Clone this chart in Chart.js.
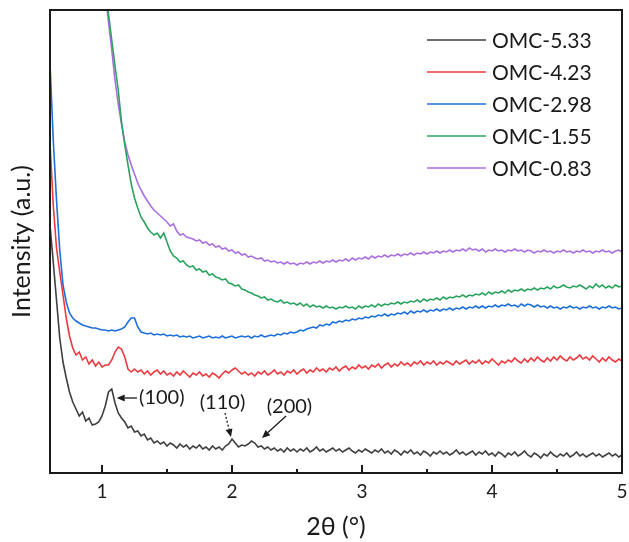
<!DOCTYPE html>
<html><head><meta charset="utf-8">
<script src="https://cdn.jsdelivr.net/npm/chart.js@4.4.1/dist/chart.umd.min.js"></script>
<style>html,body{margin:0;padding:0;background:#fff}</style>
</head><body>
<canvas id="c" width="629" height="542"></canvas>
<script>
// 2θ (°) sampling positions
const twoTheta = [
0.6,0.625,0.65,0.675,0.7,0.725,0.75,0.775,0.8,0.825,
0.85,0.875,0.9,0.925,0.95,0.975,1,1.025,1.05,1.075,
1.1,1.125,1.15,1.175,1.2,1.225,1.25,1.275,1.3,1.325,
1.35,1.375,1.4,1.425,1.45,1.475,1.5,1.525,1.55,1.575,
1.6,1.625,1.65,1.675,1.7,1.725,1.75,1.775,1.8,1.825,
1.85,1.875,1.9,1.925,1.95,1.975,2,2.025,2.05,2.075,
2.1,2.125,2.15,2.175,2.2,2.225,2.25,2.275,2.3,2.325,
2.35,2.375,2.4,2.425,2.45,2.475,2.5,2.525,2.55,2.575,
2.6,2.625,2.65,2.675,2.7,2.725,2.75,2.775,2.8,2.825,
2.85,2.875,2.9,2.925,2.95,2.975,3,3.025,3.05,3.075,
3.1,3.125,3.15,3.175,3.2,3.225,3.25,3.275,3.3,3.325,
3.35,3.375,3.4,3.425,3.45,3.475,3.5,3.525,3.55,3.575,
3.6,3.625,3.65,3.675,3.7,3.725,3.75,3.775,3.8,3.825,
3.85,3.875,3.9,3.925,3.95,3.975,4,4.025,4.05,4.075,
4.1,4.125,4.15,4.175,4.2,4.225,4.25,4.275,4.3,4.325,
4.35,4.375,4.4,4.425,4.45,4.475,4.5,4.525,4.55,4.575,
4.6,4.625,4.65,4.675,4.7,4.725,4.75,4.775,4.8,4.825,
4.85,4.875,4.9,4.925,4.95,4.975,5
];

// Intensity (a.u.) of each sample
const omc533 = [
275,238,200,162,138,122,108,98,91,84,
88,79,82,75,76,78,84,94,108,111,
97,87,82,78,72,74,68,69,64,66,
60,62,57,59,56,58,54,57,55,52,
56,53,55,51,54,52,55,51,53,50,
54,51,53,50,54,56,61,57,53,55,
54,56,59,57,53,54,51,53,50,52,
49,51,48,52,49,51,48,51,49,52,
48,50,53,49,51,48,50,52,49,51,
48,50,52,49,47,50,48,51,49,47,
50,48,51,47,49,46,50,48,45,49,
47,50,46,48,45,49,47,44,48,46,
49,46,48,45,47,50,46,48,45,47,
49,45,48,46,49,45,47,44,48,46,
43,47,45,48,44,46,49,45,43,47,
45,42,46,44,48,45,43,46,44,47,
43,45,48,44,46,43,45,47,44,46,
43,45,47,44,46,43,45
];
const omc423 = [
357,295,252,228,205,182,164,152,145,148,
140,143,136,140,134,138,133,135,135,140,
148,153,151,143,131,128,131,128,130,126,
129,125,128,130,126,129,125,127,124,128,
125,129,126,123,127,125,128,124,126,123,
127,125,122,126,129,127,130,132,129,126,
128,125,127,124,128,126,129,125,127,130,
126,128,125,129,127,130,126,129,131,127,
130,128,132,129,131,128,132,130,133,129,
132,134,130,133,131,135,132,134,131,135,
133,136,132,135,137,133,136,134,138,135,
137,134,138,136,139,135,138,136,139,135,
138,136,139,137,135,139,136,138,140,136,
139,137,140,136,139,137,141,138,135,139,
137,140,138,142,139,137,141,138,142,139,
143,140,138,142,139,143,140,144,141,139,
143,140,142,145,141,143,140,144,141,138,
142,139,143,140,138,141,139
];
const omc298 = [
437,360,300,250,215,198,187,182,179,177,
175,174,173,172,172,171,170,170,169,170,
169,170,171,173,178,182,182,173,168,167,
166,167,165,166,165,166,164,165,164,165,
163,164,163,164,162,163,164,162,163,164,
162,163,162,164,162,163,164,162,163,164,
163,164,162,164,163,165,163,164,165,164,
166,165,167,166,168,167,168,170,169,171,
172,173,172,175,174,176,175,178,177,179,
178,180,179,181,180,182,181,183,182,184,
183,185,184,186,184,186,185,187,186,188,
186,189,187,189,188,190,188,190,189,191,
189,191,190,192,190,192,191,193,191,193,
192,194,192,194,192,194,193,195,193,195,
194,196,194,195,193,196,194,196,195,193,
195,193,194,192,194,192,193,191,193,192,
194,192,193,191,193,192,194,192,193,191,
193,192,194,192,193,191,192
];
const omc155 = [
null,null,null,null,null,null,null,null,null,null,
null,null,null,null,610,572,540,512,486,460,
434,410,378,355,335,316,302,292,283,278,
272,268,265,267,262,267,258,249,244,242,
238,239,235,233,234,230,231,228,229,225,
226,223,222,220,221,217,216,214,215,211,
210,208,207,205,204,202,203,200,201,199,
198,200,197,198,196,197,195,197,194,196,
193,195,193,194,192,194,192,193,191,193,
192,194,192,193,191,194,192,194,193,195,
193,196,194,196,195,197,196,198,196,198,
197,199,198,200,198,201,199,201,200,202,
200,203,201,203,202,204,203,205,203,205,
204,206,205,207,205,208,206,208,207,209,
207,210,208,210,209,211,209,211,210,212,
210,212,211,213,211,214,212,213,215,213,
212,214,213,215,213,211,214,212,216,213,
215,212,214,212,215,213,214
];
const omc083 = [
null,null,null,null,null,null,null,null,null,null,
null,null,null,null,620,580,545,508,478,450,
420,396,376,358,345,335,326,317,310,304,
299,294,290,287,284,281,278,274,276,269,
265,266,263,262,261,259,260,257,258,255,
256,253,254,251,252,249,250,247,248,245,
246,243,244,242,241,242,239,240,238,239,
237,238,236,238,236,237,235,237,236,238,
236,238,237,239,237,239,238,240,238,240,
239,241,239,242,240,242,241,243,241,244,
242,244,243,245,243,245,244,246,244,246,
245,247,245,247,246,248,246,248,247,249,
247,249,248,250,248,250,249,251,249,252,
250,251,249,251,248,250,249,251,249,250,
248,250,249,251,249,250,248,250,249,247,
249,248,250,248,249,247,249,248,250,248,
249,247,249,248,250,248,249,247,249,248,
250,248,249,247,249,250,248
];

const seriesLabels = ['OMC-5.33','OMC-4.23','OMC-2.98','OMC-1.55','OMC-0.83'];
const xTicks = [1, 2, 3, 4, 5];
const xMinorTicks = [1.5, 2.5, 3.5, 4.5];
const peakLabels = ['(100)', '(110)', '(200)'];

// styling / annotation placement (data coordinates)
const colors = ['#3f3f3f', '#ec3a3f', '#1d6fdc', '#2ba35f', '#a96fe0'];
const notePlace = [
  {tx: 1.285, ty: 102, align: 'left',   from: [1.269, 102], to: [1.113, 102], dash: []},
  {tx: 1.927, ty: 97,  align: 'center', from: [1.946, 87],  to: [1.992, 63],  dash: [2, 2]},
  {tx: 2.442, ty: 93,  align: 'center', from: [2.416, 84],  to: [2.231, 62],  dash: []}
];

const series = [omc533, omc423, omc298, omc155, omc083];
const datasets = series.map((arr, k) => ({
  label: seriesLabels[k],
  data: twoTheta.map((x, i) => ({x: x, y: arr[i]})),
  borderColor: colors[k],
  backgroundColor: colors[k],
  borderWidth: 1.6,
  pointRadius: 0,
  tension: 0,
  fill: false,
  spanGaps: false
}));

function drawArrow(ctx, x1, y1, x2, y2, dash) {
  const ang = Math.atan2(y2 - y1, x2 - x1), L = 8, W = 3.5;
  const bx = x2 - L * Math.cos(ang), by = y2 - L * Math.sin(ang);
  ctx.setLineDash(dash);
  ctx.beginPath(); ctx.moveTo(x1, y1); ctx.lineTo(bx, by); ctx.stroke();
  ctx.setLineDash([]);
  ctx.beginPath();
  ctx.moveTo(x2, y2);
  ctx.lineTo(bx - W * Math.sin(ang), by + W * Math.cos(ang));
  ctx.lineTo(bx + W * Math.sin(ang), by - W * Math.cos(ang));
  ctx.closePath(); ctx.fill();
}

const decor = {
  id: 'decor',
  afterDatasetsDraw(chart) {
    const {ctx, chartArea: a, scales: {x, y}} = chart;
    ctx.save();
    ctx.strokeStyle = '#1a1a1a';
    ctx.fillStyle = '#1a1a1a';
    ctx.lineWidth = 2;
    ctx.strokeRect(a.left, a.top, a.right - a.left, a.bottom - a.top);
    ctx.beginPath();
    xTicks.forEach(v => { const p = Math.round(x.getPixelForValue(v)); ctx.moveTo(p, a.bottom); ctx.lineTo(p, a.bottom - 8); });
    xMinorTicks.forEach(v => { const p = Math.round(x.getPixelForValue(v)); ctx.moveTo(p, a.bottom); ctx.lineTo(p, a.bottom - 4); });
    ctx.stroke();

    // peak annotations
    ctx.font = '20px Lato';
    ctx.textBaseline = 'middle';
    ctx.lineWidth = 1.3;
    peakLabels.forEach((t, i) => {
      const n = notePlace[i];
      ctx.textAlign = n.align;
      ctx.fillText(t, x.getPixelForValue(n.tx), y.getPixelForValue(n.ty));
      drawArrow(ctx, x.getPixelForValue(n.from[0]), y.getPixelForValue(n.from[1]),
                x.getPixelForValue(n.to[0]), y.getPixelForValue(n.to[1]), n.dash);
    });

    // legend
    ctx.font = '21px Lato';
    ctx.textAlign = 'left';
    chart.data.datasets.forEach((ds, k) => {
      const cy = a.top + 30 + k * 32;
      ctx.strokeStyle = ds.borderColor;
      ctx.lineWidth = 1.6;
      ctx.beginPath(); ctx.moveTo(a.right - 195, cy); ctx.lineTo(a.right - 136, cy); ctx.stroke();
      ctx.fillStyle = '#1a1a1a';
      ctx.fillText(ds.label, a.right - 130, cy + 1);
    });
    ctx.restore();
  }
};

new Chart(document.getElementById('c'), {
  type: 'line',
  data: {datasets: datasets},
  options: {
    responsive: false,
    animation: false,
    devicePixelRatio: 1,
    layout: {padding: {left: 0, top: 10, right: 7, bottom: 0}},
    plugins: {legend: {display: false}, tooltip: {enabled: false}},
    scales: {
      x: {
        type: 'linear', min: 0.6, max: 5.0,
        afterBuildTicks: s => { s.ticks = xTicks.map(v => ({value: v})); },
        afterFit: s => { s.height = 69; s.paddingLeft = 0; s.paddingRight = 0; },
        grid: {display: false, drawTicks: false},
        border: {display: false},
        ticks: {font: {family: 'Lato', size: 19}, color: '#1a1a1a', padding: 7, maxRotation: 0, autoSkip: false},
        title: {display: true, text: '2θ (°)', font: {family: 'Lato', size: 25}, color: '#1a1a1a', padding: {top: 0, bottom: 0}}
      },
      y: {
        type: 'linear', min: 27, max: 490,
        afterFit: s => { s.width = 50; s.paddingTop = 0; s.paddingBottom = 0; },
        grid: {display: false, drawTicks: false},
        border: {display: false},
        ticks: {display: false},
        title: {display: true, text: 'Intensity (a.u.)', font: {family: 'Lato', size: 25}, color: '#1a1a1a', padding: {top: 7, bottom: 0}}
      }
    }
  },
  plugins: [decor]
});
</script>
</body></html>
